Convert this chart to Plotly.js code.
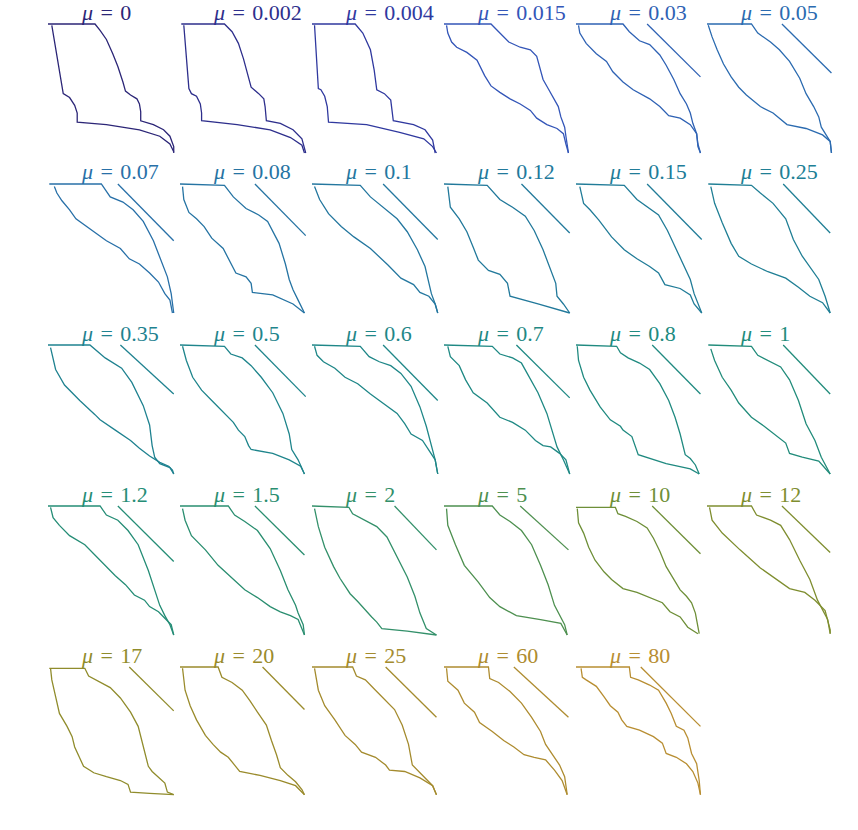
<!DOCTYPE html>
<html>
<head>
<meta charset="utf-8">
<script src="https://cdn.plot.ly/plotly-3.0.1.min.js"></script>
<style>body{margin:0;background:#fff}#plot{width:858px;height:830px}</style>
</head>
<body>
<div id="plot"></div>
<script>
// mu value of each panel, read left to right, top to bottom
var mu = ['0','0.002','0.004','0.015','0.03','0.05',
          '0.07','0.08','0.1','0.12','0.15','0.25',
          '0.35','0.5','0.6','0.7','0.8','1',
          '1.2','1.5','2','5','10','12',
          '17','20','25','60','80'];

// upper front: flat top (from the left) then down to the bottom right, [x, y] in % of the panel
var upper = [
  [[0,100],[37,100],[41,95],[46,88],[51,77],[55,67],[59,55],[61,48],[65,45],[70,42],[72,38],[73,32],[73,25],[83,22],[91,18],[96,13],[99,5],[99,0]],
  [[1,100],[35,100],[41,94],[46,85],[50,73],[54,59],[56,51],[62,46],[66,42],[67,36],[68,25],[79,23],[89,18],[96,11],[98,2],[99,0]],
  [[0,100],[34,100],[40,93],[46,80],[49,64],[51,49],[57,46],[62,41],[63,33],[64,25],[80,22],[89,18],[95,10],[97,0]],
  [[0,100],[37,100],[44,93],[51,86],[60,82],[68,80],[73,75],[75,67],[78,57],[82,50],[87,41],[90,36],[92,28],[95,20],[96,13],[97,5],[98,0]],
  [[0,100],[37,100],[42,94],[50,87],[58,84],[66,76],[71,68],[77,57],[82,46],[87,38],[90,31],[92,23],[95,15],[96,5],[98,0]],
  [[0,100],[35,100],[40,93],[50,86],[57,80],[65,71],[73,58],[78,46],[84,36],[88,28],[90,20],[94,14],[97,9],[98,0]],
  [[1,100],[42,100],[49,90],[59,86],[67,80],[75,71],[83,56],[89,41],[94,28],[97,15],[98,5],[99,0]],
  [[0,100],[35,99],[42,90],[52,81],[62,76],[69,71],[78,54],[83,38],[86,26],[89,18],[93,10],[98,0]],
  [[0,100],[38,99],[46,90],[56,82],[67,73],[75,63],[83,49],[89,36],[92,23],[94,15],[97,7],[99,0]],
  [[0,100],[34,99],[44,88],[54,82],[64,75],[71,64],[78,49],[84,33],[88,23],[89,13],[94,7],[99,0]],
  [[0,100],[38,99],[48,88],[58,81],[65,76],[72,64],[78,51],[85,36],[90,26],[93,15],[97,5],[99,0]],
  [[1,100],[35,99],[42,93],[52,85],[62,73],[68,57],[75,44],[81,36],[88,26],[93,13],[97,0]],
  [[0,100],[33,100],[45,90],[58,82],[66,71],[75,53],[80,38],[82,22],[84,13],[88,8],[96,5],[99,0]],
  [[0,100],[35,99],[40,93],[49,90],[56,84],[64,75],[73,63],[81,47],[86,31],[88,19],[93,11],[98,0]],
  [[0,100],[38,99],[45,91],[53,87],[62,84],[70,78],[78,68],[85,52],[90,37],[94,21],[97,11],[99,0]],
  [[0,100],[38,99],[44,93],[54,90],[61,86],[67,75],[74,63],[81,47],[86,31],[89,21],[94,11],[99,0]],
  [[0,100],[32,99],[35,94],[41,90],[50,86],[58,81],[66,70],[73,57],[78,44],[82,31],[86,15],[90,12],[94,7],[97,0]],
  [[1,100],[35,99],[40,92],[48,88],[58,83],[65,73],[72,57],[78,39],[85,26],[90,13],[97,0]],
  [[0,100],[41,100],[46,93],[55,89],[63,81],[71,70],[79,50],[84,35],[88,23],[92,15],[96,8],[99,0]],
  [[0,100],[38,100],[43,93],[51,88],[61,81],[71,67],[79,50],[85,35],[91,23],[93,17],[97,8],[98,0]],
  [[0,100],[29,99],[32,94],[40,90],[51,84],[59,76],[67,61],[75,45],[81,30],[85,17],[90,5],[98,0]],
  [[0,100],[38,100],[44,93],[52,88],[61,81],[69,70],[76,54],[82,39],[87,23],[91,16],[95,8],[97,0]],
  [[0,99],[31,99],[33,94],[39,92],[48,88],[56,83],[61,75],[66,65],[71,53],[77,43],[82,35],[87,30],[91,25],[94,17],[96,6],[97,1]],
  [[0,100],[35,100],[39,93],[50,89],[58,85],[65,74],[73,58],[81,43],[87,27],[92,18],[95,12],[97,1]],
  [[1,99],[29,99],[32,93],[40,89],[49,84],[57,76],[65,65],[71,54],[75,38],[79,23],[82,19],[88,14],[92,10],[94,3],[99,1]],
  [[0,100],[30,100],[33,92],[41,88],[49,82],[55,74],[61,65],[68,55],[72,43],[76,32],[79,22],[85,16],[91,11],[96,5],[98,1]],
  [[0,100],[32,100],[35,93],[42,90],[50,82],[58,74],[65,67],[71,55],[76,40],[79,24],[84,19],[89,14],[95,8],[98,1]],
  [[0,100],[35,100],[36,91],[43,88],[52,81],[61,72],[69,61],[76,50],[80,40],[86,31],[91,24],[95,15],[97,1]],
  [[0,100],[42,100],[43,92],[49,90],[58,86],[65,82],[71,72],[75,64],[79,54],[85,51],[88,45],[91,33],[95,25],[97,12],[98,1]]
];

// lower front: from the top left corner down to the bottom right
var lower = [
  [[3,99],[12,46],[17,43],[21,37],[23,31],[23,24],[46,22],[72,18],[88,13],[96,7],[99,1]],
  [[3,99],[7,50],[9,46],[13,44],[16,38],[17,31],[17,25],[45,22],[71,18],[87,12],[96,6],[98,0]],
  [[2,99],[5,50],[7,49],[10,44],[12,36],[13,24],[43,22],[69,16],[88,11],[95,5],[98,0]],
  [[2,99],[3,93],[6,86],[10,82],[18,78],[26,72],[32,60],[37,52],[44,47],[52,42],[60,38],[68,33],[73,27],[81,22],[89,19],[94,15],[96,7],[98,0]],
  [[2,99],[3,93],[8,85],[16,77],[24,71],[29,63],[37,55],[45,49],[58,42],[66,36],[73,29],[82,27],[90,22],[95,15],[96,7],[98,0]],
  [[1,99],[4,90],[8,80],[13,69],[19,59],[25,51],[31,45],[42,36],[52,31],[63,22],[78,19],[91,14],[97,9],[98,0]],
  [[5,98],[7,93],[11,87],[17,80],[22,73],[33,65],[46,56],[57,50],[64,42],[72,38],[80,31],[87,24],[92,15],[96,10],[98,0]],
  [[2,98],[3,88],[7,78],[13,73],[19,67],[25,58],[34,50],[39,41],[44,31],[52,28],[56,23],[57,16],[73,14],[89,7],[98,0]],
  [[2,98],[6,88],[13,77],[23,67],[33,59],[46,50],[60,37],[70,27],[80,22],[85,16],[92,13],[97,7],[99,0]],
  [[3,98],[5,82],[12,73],[18,63],[23,51],[27,41],[35,33],[44,30],[50,23],[52,13],[74,7],[99,0]],
  [[3,98],[6,85],[11,80],[18,72],[28,59],[38,49],[48,42],[58,36],[65,31],[70,22],[82,19],[90,14],[93,7],[99,0]],
  [[3,98],[6,85],[12,70],[19,54],[25,44],[35,38],[48,32],[62,27],[72,20],[81,13],[91,8],[97,0]],
  [[2,98],[6,81],[13,69],[25,57],[37,46],[41,42],[53,34],[65,26],[72,20],[80,14],[88,9],[95,6],[98,3],[99,0]],
  [[2,99],[5,88],[10,75],[17,65],[25,57],[35,47],[42,40],[46,34],[51,29],[54,22],[56,19],[73,16],[86,11],[95,6],[98,0]],
  [[2,99],[4,92],[9,87],[18,82],[26,75],[36,70],[46,62],[56,55],[67,47],[73,39],[78,31],[87,26],[92,19],[97,11],[99,0]],
  [[3,99],[5,91],[12,84],[17,73],[23,63],[34,55],[44,44],[54,40],[64,34],[72,26],[78,22],[84,21],[91,16],[96,11],[99,0]],
  [[1,99],[2,88],[6,75],[11,65],[19,52],[27,42],[35,37],[37,34],[44,29],[46,24],[49,15],[71,8],[90,4],[97,0]],
  [[3,97],[6,88],[12,75],[19,65],[25,55],[35,44],[45,37],[55,29],[62,24],[65,16],[75,13],[88,10],[97,0]],
  [[2,99],[4,91],[9,85],[17,77],[29,70],[41,58],[53,46],[61,39],[68,31],[76,27],[80,22],[87,18],[92,13],[97,8],[99,0]],
  [[2,98],[4,89],[9,77],[20,66],[30,54],[39,46],[51,35],[61,29],[71,22],[79,18],[87,15],[93,12],[96,4],[98,0]],
  [[2,98],[5,84],[10,68],[17,53],[22,44],[30,32],[36,26],[42,19],[47,14],[51,10],[55,5],[75,3],[98,0]],
  [[2,98],[3,85],[9,70],[16,54],[27,41],[36,29],[44,22],[52,18],[57,15],[76,12],[92,9],[97,0]],
  [[1,98],[2,87],[6,79],[10,68],[15,58],[22,49],[28,43],[37,36],[48,33],[58,29],[68,25],[74,18],[82,14],[88,6],[96,1]],
  [[2,99],[4,89],[12,79],[26,66],[42,52],[54,44],[65,36],[77,33],[85,27],[93,19],[97,4],[97,1]],
  [[2,99],[3,90],[6,77],[9,64],[15,54],[19,46],[21,38],[25,29],[28,23],[33,20],[36,18],[46,15],[57,12],[63,9],[65,3],[80,2],[99,1]],
  [[2,99],[4,82],[8,70],[13,59],[20,47],[26,40],[32,34],[38,30],[43,24],[47,19],[63,16],[79,12],[91,8],[98,1]],
  [[2,99],[5,82],[10,70],[18,59],[26,47],[34,40],[39,34],[50,30],[58,24],[61,20],[73,19],[85,14],[95,8],[98,1]],
  [[2,99],[3,89],[11,82],[16,72],[24,65],[28,57],[38,50],[47,43],[55,38],[63,32],[71,30],[80,28],[87,20],[93,12],[97,1]],
  [[4,99],[5,92],[8,90],[16,85],[22,77],[27,70],[33,65],[36,59],[40,54],[50,51],[61,46],[68,41],[71,33],[79,30],[87,25],[92,19],[96,10],[98,1]]
];

// straight reference segment [x0, y0, x1, y1]; none in the first four panels
var diag = [
  null, null, null, null, [56,100,98,59], [59,100,98,62],
  [55,100,99,56], [59,100,99,60], [56,100,99,57], [61,100,99,62], [56,100,99,57], [60,100,97,62],
  [57,100,99,62], [59,100,99,60], [56,100,99,57], [57,100,99,59], [60,100,98,62], [60,100,97,62],
  [55,100,99,57], [59,100,98,62], [65,100,98,66], [60,100,98,66], [60,100,98,63], [59,100,97,64],
  [64,100,99,66], [65,100,98,67], [58,100,98,61], [55,100,98,61], [51,100,98,54]
];

// colours sampled from the panels (dark indigo -> blue -> teal -> green -> olive -> gold)
var colors = ['#2c2677','#2e2f8c','#30399f','#3456b8','#2f62b4','#2b6bb0',
              '#2870a8','#2674a3','#24779f','#22799b','#217c98','#207f95',
              '#1f8290','#1f858c','#1f8788','#1f8984','#208a80','#228c7b',
              '#258d76','#2a8e70','#33906a','#4e9050','#6e8f38','#7f8e30',
              '#908c2c','#9a8b2c','#a48b2e','#ae8c30','#b88e32'];

var W = 858, H = 830;
var colLeft = [48, 180, 312, 444, 576, 707];
var rowTop = [24, 184, 345, 506, 667];
var boxW = 127, boxH = 129, pad = 2;

var data = [];
var annotations = [];
var layout = {
  width: W, height: H,
  margin: {l: 0, r: 0, t: 0, b: 0},
  paper_bgcolor: '#fff', plot_bgcolor: 'rgba(0,0,0,0)',
  showlegend: false, hovermode: false
};

mu.forEach(function (m, i) {
  var n = i + 1;
  var xa = n === 1 ? 'x' : 'x' + n, ya = n === 1 ? 'y' : 'y' + n;
  var col = i % 6, row = Math.floor(i / 6);
  var l = colLeft[col] - pad * boxW / 100, r = colLeft[col] + boxW + pad * boxW / 100;
  var t = rowTop[row] - pad * boxH / 100, b = rowTop[row] + boxH + pad * boxH / 100;
  var axBase = {visible: false, showgrid: false, zeroline: false, fixedrange: true, range: [-pad, 100 + pad]};
  layout['xaxis' + (n === 1 ? '' : n)] = Object.assign({}, axBase, {domain: [l / W, r / W], anchor: ya});
  layout['yaxis' + (n === 1 ? '' : n)] = Object.assign({}, axBase, {domain: [1 - b / H, 1 - t / H], anchor: xa});

  // both fronts in one trace, split by a gap
  var xs = [], ys = [];
  upper[i].forEach(function (p) { xs.push(p[0]); ys.push(p[1]); });
  xs.push(null); ys.push(null);
  lower[i].forEach(function (p) { xs.push(p[0]); ys.push(p[1]); });
  data.push({x: xs, y: ys, xaxis: xa, yaxis: ya, type: 'scatter', mode: 'lines',
             connectgaps: false, line: {color: colors[i], width: 1.3}});

  if (diag[i]) {
    var d = diag[i];
    data.push({x: [d[0], d[2]], y: [d[1], d[3]], xaxis: xa, yaxis: ya, type: 'scatter',
               mode: 'lines', line: {color: colors[i], width: 1.3}});
  }

  annotations.push({
    text: '<i>\u03bc</i>\u2004=\u2004' + m,
    xref: 'paper', yref: 'paper',
    x: (colLeft[col] + 31) / W, y: 1 - (rowTop[row] - 12) / H,
    xanchor: 'left', yanchor: 'middle', showarrow: false,
    font: {family: 'Liberation Serif, serif', size: 22, color: colors[i]}
  });
});
layout.annotations = annotations;

Plotly.newPlot('plot', data, layout, {staticPlot: true, displayModeBar: false});
</script>
</body>
</html>
